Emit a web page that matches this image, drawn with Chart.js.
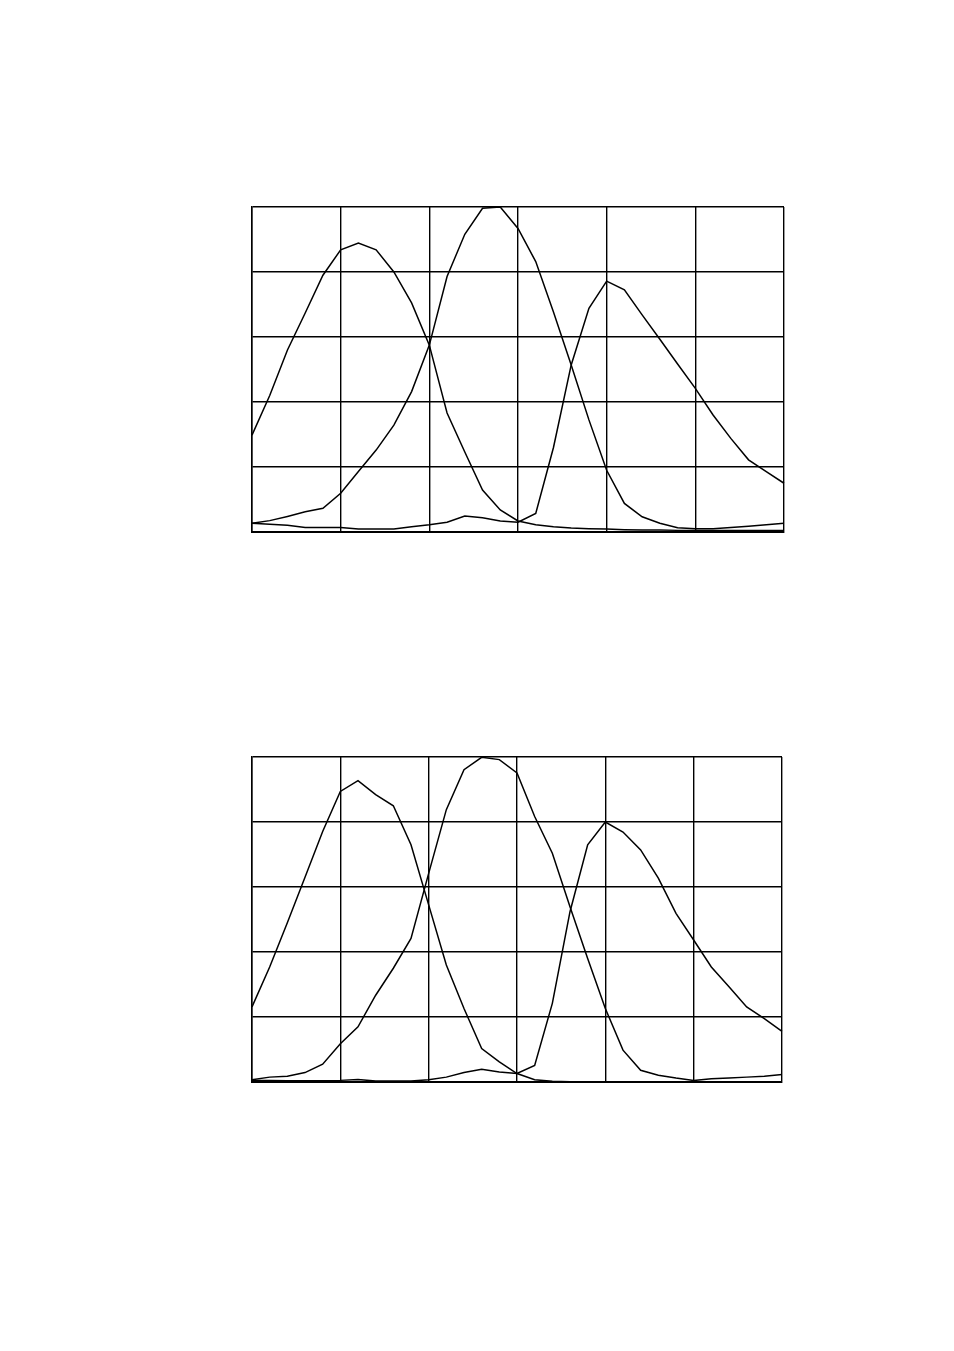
<!DOCTYPE html>
<html>
<head>
<meta charset="utf-8">
<script src="https://cdn.jsdelivr.net/npm/chart.js@4"></script>
<style>
  body { margin: 0; background: #fff; }
  canvas { position: absolute; }
  #chart-top { left: 247px; top: 203px; }
  #chart-bottom { left: 247px; top: 753px; }
</style>
</head>
<body>
<canvas id="chart-top" width="542" height="334"></canvas>
<canvas id="chart-bottom" width="540" height="334"></canvas>
<script>
// longitud de onda (nm), un punto cada 10 nm
const wavelengths = [400, 410, 420, 430, 440, 450, 460, 470, 480, 490, 500,
  510, 520, 530, 540, 550, 560, 570, 580, 590, 600,
  610, 620, 630, 640, 650, 660, 670, 680, 690, 700];

// grafico de arriba
const topBlue = [0.298, 0.42, 0.56, 0.674, 0.79, 0.868, 0.889, 0.868, 0.80, 0.705, 0.575,
  0.366, 0.246, 0.129, 0.068, 0.034, 0.022, 0.016, 0.012, 0.01, 0.009,
  0.007, 0.006, 0.006, 0.005, 0.005, 0.005, 0.005, 0.005, 0.005, 0.005];
const topGreen = [0.027, 0.035, 0.048, 0.062, 0.073, 0.119, 0.186, 0.252, 0.329, 0.432, 0.575,
  0.786, 0.916, 0.996, 1.0, 0.934, 0.832, 0.677, 0.514, 0.345, 0.19,
  0.088, 0.047, 0.027, 0.013, 0.01, 0.01, 0.014, 0.018, 0.022, 0.027];
const topRed = [0.027, 0.024, 0.021, 0.014, 0.014, 0.014, 0.009, 0.009, 0.009, 0.016, 0.022,
  0.03, 0.049, 0.044, 0.034, 0.03, 0.057, 0.26, 0.514, 0.688, 0.772,
  0.745, 0.668, 0.593, 0.517, 0.442, 0.36, 0.288, 0.222, 0.186, 0.15];

// grafico de abajo
const bottomBlue = [0.231, 0.354, 0.49, 0.63, 0.771, 0.894, 0.927, 0.884, 0.85, 0.73, 0.545,
  0.36, 0.226, 0.103, 0.062, 0.026, 0.007, 0.002, 0.001, 0, 0,
  0, 0, 0, 0, 0, 0, 0, 0, 0, 0];
const bottomGreen = [0.007, 0.015, 0.018, 0.029, 0.055, 0.118, 0.17, 0.267, 0.35, 0.442, 0.642,
  0.838, 0.961, 0.999, 0.992, 0.951, 0.817, 0.704, 0.539, 0.38, 0.226,
  0.098, 0.036, 0.021, 0.012, 0.005, 0.01, 0.012, 0.015, 0.018, 0.023];
const bottomRed = [0.005, 0.005, 0.004, 0.004, 0.004, 0.005, 0.008, 0.003, 0.003, 0.003, 0.007,
  0.015, 0.029, 0.039, 0.031, 0.026, 0.051, 0.242, 0.524, 0.73, 0.8,
  0.769, 0.714, 0.627, 0.519, 0.437, 0.354, 0.293, 0.231, 0.195, 0.156];

function serie(values) {
  return {
    data: values.map((v, i) => ({ x: wavelengths[i], y: v })),
    borderColor: '#000',
    borderWidth: 1.5,
    pointRadius: 0,
    tension: 0,
    fill: false,
    clip: false
  };
}

function makeConfig(series, padding) {
  return {
    type: 'line',
    data: { datasets: series.map(serie) },
    options: {
      responsive: false,
      animation: false,
      devicePixelRatio: 1,
      layout: { padding: padding },
      plugins: { legend: { display: false }, tooltip: { enabled: false } },
      scales: {
        x: {
          type: 'linear',
          min: 400,
          max: 700,
          ticks: { stepSize: 50, display: false },
          grid: { color: '#000', lineWidth: 1.4, drawTicks: false },
          border: { color: '#000', width: 2 }
        },
        y: {
          min: 0,
          max: 1,
          ticks: { stepSize: 0.2, display: false },
          grid: { color: '#000', lineWidth: 1.4, drawTicks: false },
          border: { color: '#000', width: 1.5 }
        }
      }
    }
  };
}

new Chart(document.getElementById('chart-top'),
  makeConfig([topBlue, topGreen, topRed], { left: 5, top: 4, right: 5, bottom: 5 }));
new Chart(document.getElementById('chart-bottom'),
  makeConfig([bottomBlue, bottomGreen, bottomRed], { left: 5, top: 4, right: 5, bottom: 5 }));
</script>
</body>
</html>
